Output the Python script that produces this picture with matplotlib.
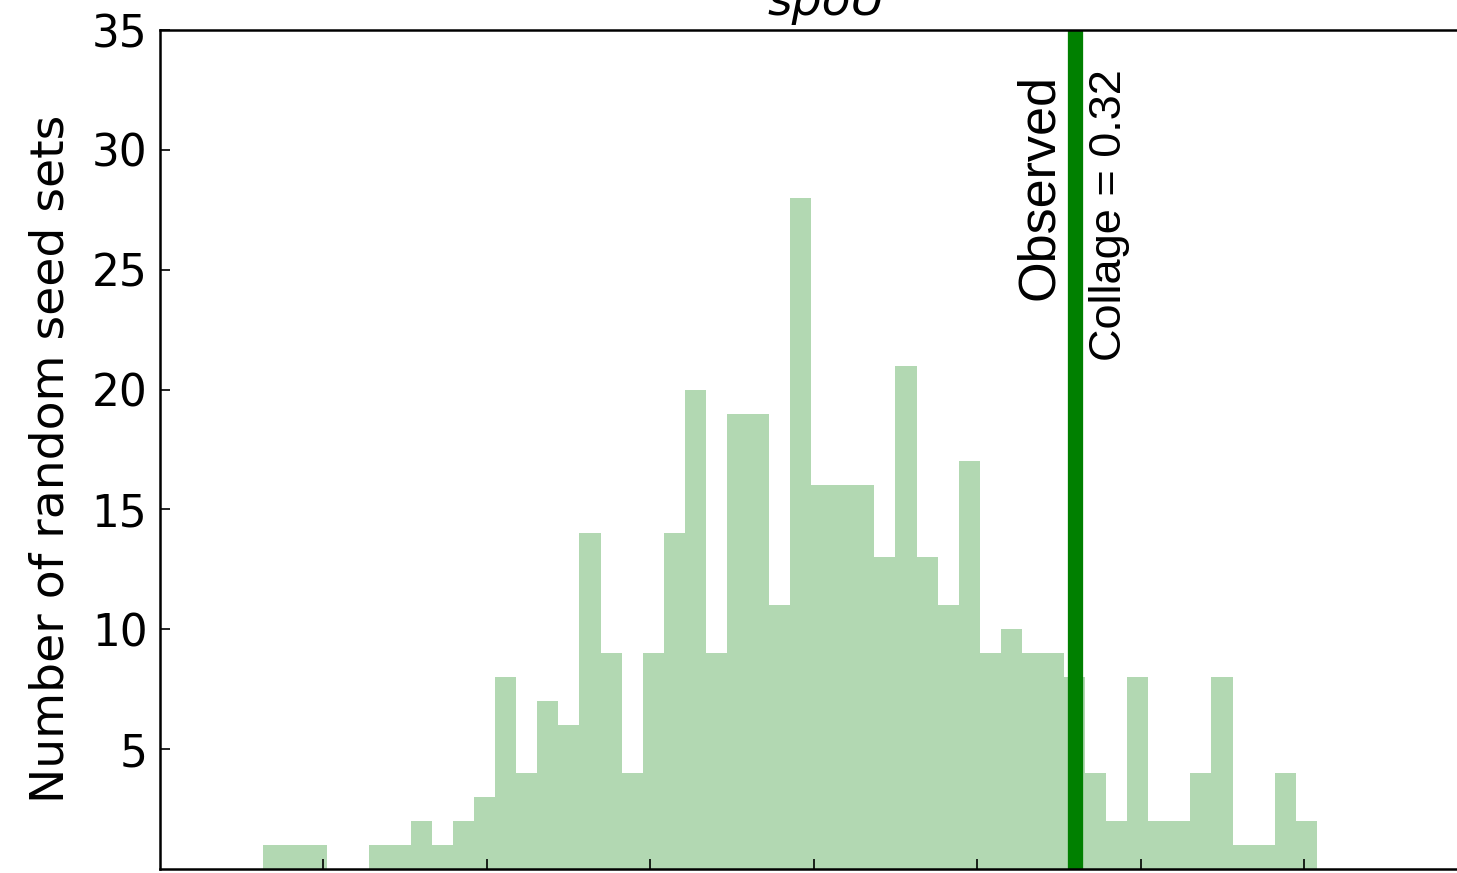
import matplotlib
matplotlib.use('Agg')
import matplotlib.pyplot as plt
import numpy as np

# ---- data ----
counts = [1, 1, 1, 0, 0, 1, 1, 2, 1, 2,
          3, 8, 4, 7, 6, 14, 9, 4, 9, 14,
          20, 9, 19, 19, 11, 28, 16, 16, 16, 13,
          21, 13, 11, 17, 9, 10, 9, 9, 8, 4,
          2, 8, 2, 2, 4, 8, 1, 1, 4, 2]
hist_min = -0.6734
hist_max = 0.6152
observed = 0.319
observed_label = "Collage = 0.32"
title = "spoU"
ylabel = "Number of random seed sets"
xticks = [-0.6, -0.4, -0.2, 0.0, 0.2, 0.4, 0.6]
yticks = [5, 10, 15, 20, 25, 30, 35]

edges = np.linspace(hist_min, hist_max, len(counts) + 1)
centers = (edges[:-1] + edges[1:]) / 2

fig = plt.figure(figsize=(14.57, 8.73), dpi=100)
ax = fig.add_axes([160 / 1457, 4 / 873, (1494 - 160) / 1457, (869 - 30) / 873])

ax.hist(centers, bins=edges, weights=counts, color='green', alpha=0.3,
        edgecolor='none', linewidth=0)
ax.axvline(observed, color='green', linewidth=11)

ax.set_xlim(-0.8, 0.832)
ax.set_ylim(0, 35)
ax.set_xticks(xticks)
ax.set_yticks(yticks)
ax.set_yticklabels([str(t) for t in yticks])

for s in ax.spines.values():
    s.set_linewidth(1.8)
ax.tick_params(axis='both', direction='in', length=7, width=1.2,
               top=False, right=False, labelsize=31.5, pad=9)
ax.tick_params(axis='x', labelbottom=False)

ax.set_ylabel(ylabel, fontsize=34, family='DejaVu Sans')
ax.yaxis.set_label_coords(-0.065, 0.489)
ax.set_title(title, fontsize=34, style='italic', pad=11)

trans = matplotlib.transforms.blended_transform_factory(ax.transData, ax.transAxes)
ax.annotate("Observed", xy=(observed, 0.948), xycoords=trans,
            xytext=(-8, 0), textcoords='offset points',
            rotation=90, ha='right', va='top', fontsize=37.5,
            family='Liberation Sans')
ax.annotate(observed_label, xy=(observed, 0.953), xycoords=trans,
            xytext=(10, 0), textcoords='offset points',
            rotation=90, ha='left', va='top', fontsize=32.5,
            family='Liberation Sans')

fig.savefig('out.png', dpi=100)
